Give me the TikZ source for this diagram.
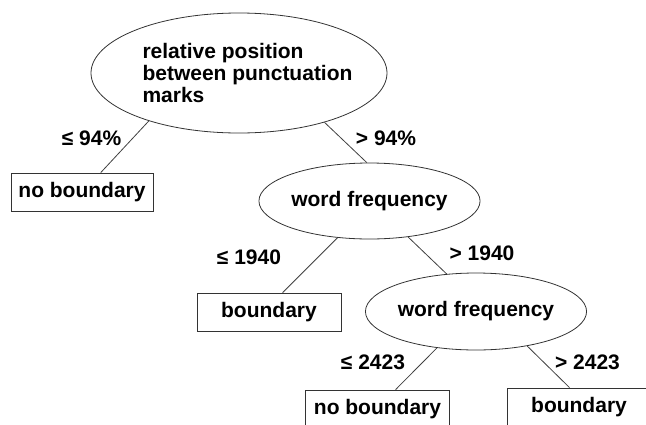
\documentclass[tikz,border=0pt]{standalone}
\usepackage{fontspec}
\setmainfont{Liberation Sans}
\usetikzlibrary{shapes.geometric}
\begin{document}
\begin{tikzpicture}[x=1pt,y=-1pt,
  every node/.style={font=\fontsize{21}{22}\selectfont\bfseries},
  ell/.style={ellipse,draw=black!80,line width=0.8pt,inner sep=0pt},
  leaf/.style={rectangle,draw=black!80,line width=0.8pt,minimum height=38pt,inner sep=0pt},
  cond/.style={inner sep=0pt},
  edge/.style={draw=black!75,line width=0.8pt}]
\useasboundingbox (0,0) rectangle (646,424);
\node[ell,minimum width=296pt,minimum height=120pt] (root) at (239,73) {};
\node[align=left,inner sep=0pt] (roottxt) at (247.5,73) {relative position\\between punctuation\\marks};
\node[leaf,minimum width=142pt] (nb1) at (82,192) {no boundary};
\node[ell,minimum width=207pt,minimum height=76pt] (wf1) at (369.5,201) {word frequency};
\node[leaf,minimum width=144pt] (b1) at (269,312) {boundary};
\node[ell,minimum width=208pt,minimum height=77pt] (wf2) at (476,311.5) {word frequency};
\node[leaf,minimum width=144pt] (nb2) at (377.5,409) {no boundary};
\node[leaf,minimum width=144pt] (b2) at (579,407) {boundary};
\draw[edge] (root.208.8) -- (nb1.46.5);
\draw[edge] (root.330.4) -- (wf1.94);
\draw[edge] (wf1.229) -- (b1.55);
\draw[edge] (wf1.317.5) -- (wf2.128);
\draw[edge] (wf2.223.3) -- (nb2.47.4);
\draw[edge] (wf2.326.7) -- (b2.116.6);
\node[cond] (c1) at (91.5,138) {≤ 94\%};
\node[cond] (c2) at (386,138) {> 94\%};
\node[cond] (c3) at (249,257) {≤ 1940};
\node[cond] (c4) at (482,253) {> 1940};
\node[cond] (c5) at (373,362) {≤ 2423};
\node[cond] (c6) at (587.5,362) {> 2423};
\end{tikzpicture}
\end{document}
